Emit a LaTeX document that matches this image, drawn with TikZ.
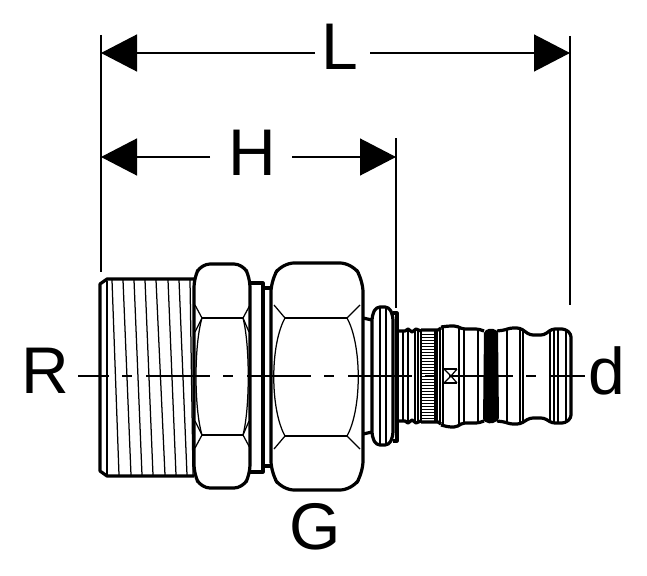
\documentclass[tikz,border=0pt]{standalone}
\usepackage{fontspec}
\setmainfont{Liberation Sans}
\usetikzlibrary{arrows.meta}
\tikzset{
  thick line/.style={line width=3.2pt,line join=round},
  medium line/.style={line width=1.9pt},
  thin line/.style={line width=1.25pt},
  dim arrow/.style={line width=1.3pt,-{Triangle[length=36pt,width=37pt]}},
  ext line/.style={line width=1.4pt},
  axis line/.style={line width=1.4pt,dash pattern=on 64pt off 13pt on 10pt off 14pt,dash phase=33pt},
  dim label/.style={inner sep=0pt,font=\fontsize{66}{66}\selectfont}
}
\begin{document}
\begin{tikzpicture}[x=1pt,y=-1pt]

      \useasboundingbox (0,0) rectangle (647,575);

      \begin{scope}[every node/.style={dim label}]
        \node (L) at (340,47) {L};
        \node (H) at (252,153) {H};
        \node (R) at (45,371) {R};
        \node (d) at (607,371) {d};
        \node (G) at (315,527) {G};
      \end{scope}

      % dimension ends
      \coordinate (Lleft)  at (101,53);
      \coordinate (Lright) at (570,53);
      \coordinate (Hleft)  at (101,157);
      \coordinate (Hright) at (396,157);
      \coordinate (Ltop1)  at (101,35);
      \coordinate (Lbot1)  at (101,272);
      \coordinate (Ltop2)  at (570,36);
      \coordinate (Lbot2)  at (570,305);
      \coordinate (Htop)   at (396,138);
      \coordinate (Hbot)   at (396,308);
      \coordinate (Lgap1)  at (315,53);
      \coordinate (Lgap2)  at (370,53);
      \coordinate (Hgap1)  at (210,157);
      \coordinate (Hgap2)  at (292,157);
      \coordinate (axisL)  at (78,376);
      \coordinate (axisR)  at (585,376);

      \draw[ext line] (Ltop1) -- (Lbot1);
      \draw[ext line] (Ltop2) -- (Lbot2);
      \draw[ext line] (Htop) -- (Hbot);
      \draw[dim arrow] (Lgap1) -- (Lleft);
      \draw[dim arrow] (Lgap2) -- (Lright);
      \draw[dim arrow] (Hgap1) -- (Hleft);
      \draw[dim arrow] (Hgap2) -- (Hright);

      % thread
      \draw[thick line] (194,279) -- (107,279) -- (100,284) -- (100,471) -- (107,476) -- (194,476);
      \draw[medium line] (107,281) -- (107,475);
      \foreach \xa/\xb in {112/119,123/131,134/142,145/153,156/165,168/176,179/187,190/193}
        \draw[thin line] (\xa,280) -- (\xb,475);

      % first hexagon
      \draw[thick line,rounded corners=9pt] (201,264) -- (243,264) -- (250,278) -- (250,474) -- (243,488) -- (201,488) -- (194,474) -- (194,278) -- cycle;
      \draw[thin line] (202,318) -- (243,318) (202,435) -- (243,435);
      \draw[thin line] (195,305) -- (202,318) -- (195,332) (250,305) -- (243,318) -- (249,332);
      \draw[thin line] (195,448) -- (202,435) -- (195,421) (250,448) -- (243,435) -- (249,421);
      \draw[thin line] (202,318) .. controls (194,345) and (194,408) .. (202,435);
      \draw[thin line] (243,318) .. controls (250,345) and (250,408) .. (243,435);

      % washer
      \draw[thick line] (250,283) -- (263,283) -- (263,472) -- (250,472);
      \draw[thick line] (263,288) -- (271,288) (263,466) -- (271,466);

      % second hexagon
      \draw[thick line,rounded corners=12pt] (282,263) -- (352,263) -- (363,280) -- (363,473) -- (352,490) -- (282,490) -- (271,473) -- (271,280) -- cycle;
      \draw[thin line] (285,318) -- (347,318) (285,436) -- (347,436);
      \draw[thin line] (274,305) -- (285,318) (360,305) -- (347,318);
      \draw[thin line] (274,449) -- (285,436) (360,449) -- (347,436);
      \draw[thin line] (285,318) .. controls (270,345) and (270,409) .. (285,436);
      \draw[thin line] (347,318) .. controls (362,345) and (362,409) .. (347,436);

      % neck and flange
      \draw[thick line] (363,318) -- (372,320) (363,434) -- (372,432);
      \draw[thick line,rounded corners=4pt] (372,316) -- (376,307) -- (389,307) -- (393,316) -- (393,436) -- (389,445) -- (376,445) -- (372,436) -- cycle;
      \draw[medium line] (380,308) -- (380,444) (386,308) -- (386,444);
      \draw[thick line] (393,313) -- (397,313) -- (397,441) -- (393,441);

      % grooves
      \draw[thick line] (397,331) -- (405,331) -- (408,329) -- (412,332) -- (416,329) -- (421,331);
      \draw[thick line] (397,421) -- (405,421) -- (408,423) -- (412,420) -- (416,423) -- (421,421);
      \draw[medium line] (403,331) -- (403,421) (408,330) -- (408,422) (415,331) -- (415,421) (418,330) -- (418,422);

      % knurl
      \draw[thick line] (421,330) -- (438,330) -- (441,328) (421,422) -- (438,422) -- (441,424);
      \draw[medium line] (421,331) -- (421,421) (435,331) -- (435,421) (437,331) -- (437,421);
      \foreach \y in {334,337,...,418}
        \draw[line width=.9pt] (422,\y) -- (434,\y);
      \draw[line width=2pt] (440,329) -- (440,423);

      % body
      \draw[thick line,rounded corners=2pt] (441,327) -- (449,326) -- (456,326) -- (463,329) -- (478,329) -- (484,331) (441,425) -- (449,427) -- (456,427) -- (463,423) -- (478,423) -- (484,421);
      \draw[line width=2.6pt] (443,328) -- (443,424) (459,328) -- (459,424);
      \draw[thin line] (464,330) -- (464,422);
      \draw[medium line] (478,330) -- (478,422);
      \draw[thin line] (444,369) -- (457,369) (444,383) -- (457,383);
      \draw[thin line] (444,369) -- (451,376) -- (444,383) (457,369) -- (451,376) -- (457,383);

      % seal band
      \fill[rounded corners=2pt] (484,331) -- (491,328) -- (498,331) -- (499,420) -- (491,424) -- (483,421) -- cycle;

      % plug end
      \draw[thick line,rounded corners=3pt] (497,331) -- (505,330) -- (510,328) -- (520,328) -- (530,335) -- (544,335) -- (552,329) -- (565,329) -- (571,334) -- (571,418) -- (565,423) -- (552,423) -- (544,418) -- (530,418) -- (520,424) -- (510,424) -- (505,422) -- (497,421);
      \draw[medium line] (507,329) -- (507,423);
      \draw[medium line] (520,328) -- (520,424) (523,329) -- (523,423);
      \draw[medium line] (550,330) -- (550,422) (554,329) -- (554,423) (558,329) -- (558,423);
      \draw[medium line] (566,330) -- (566,422);

      \draw[axis line] (axisL) -- (axisR);

    \end{tikzpicture}
\end{document}
